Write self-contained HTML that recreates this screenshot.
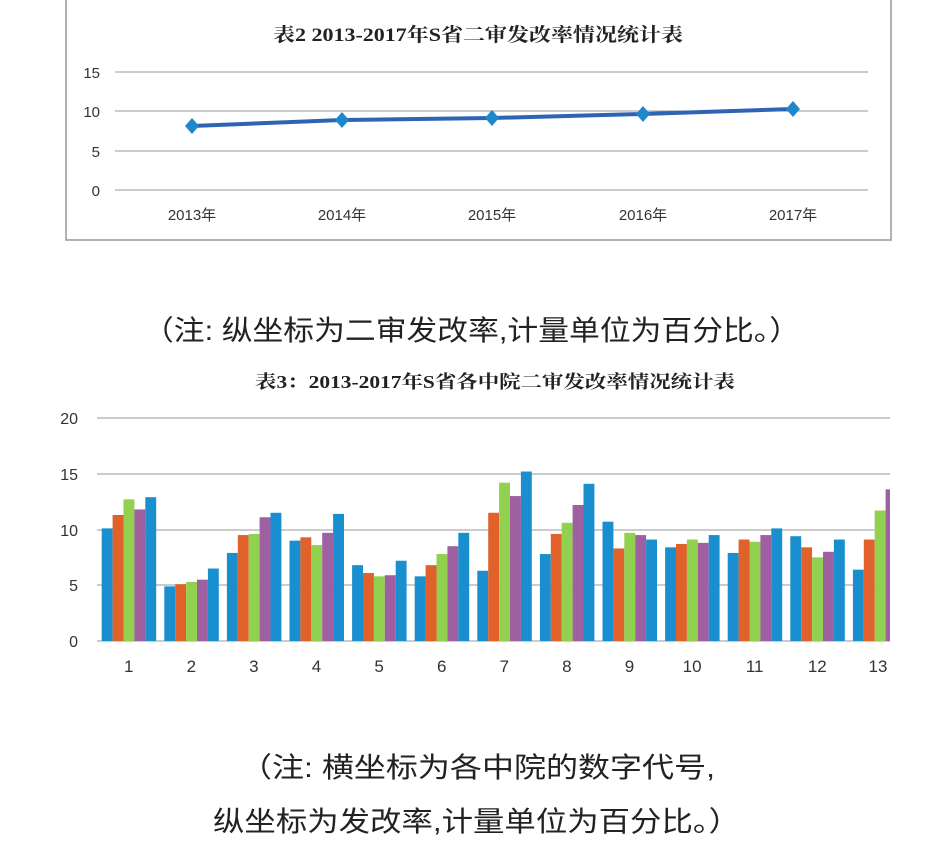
<!DOCTYPE html>
<html><head><meta charset="utf-8"><style>
body{margin:0;background:#fff;width:940px;height:848px;overflow:hidden;font-family:"Liberation Sans","Noto Sans CJK SC",sans-serif}
</style></head><body>
<svg width="940" height="848" xmlns="http://www.w3.org/2000/svg" style="position:absolute;left:0;top:0">
<polyline points="66,0 66,240 891,240 891,0" fill="none" stroke="#999" stroke-width="1.5"/>
<text x="273" y="41" textLength="410" lengthAdjust="spacingAndGlyphs" font-family="Liberation Serif,'Noto Serif CJK SC',serif" font-weight="bold" font-size="19" fill="#222">表2  2013-2017年S省二审发改率情况统计表</text>
<g stroke="#999" stroke-width="1">
<line x1="115" y1="72" x2="868" y2="72"/><line x1="115" y1="111" x2="868" y2="111"/>
<line x1="115" y1="151" x2="868" y2="151"/><line x1="115" y1="190" x2="868" y2="190"/>
</g>
<g font-size="15" fill="#333" text-anchor="end">
<text x="100" y="78">15</text><text x="100" y="117">10</text><text x="100" y="157">5</text><text x="100" y="196">0</text>
</g>
<g font-size="15" fill="#333" text-anchor="middle">
<text x="192" y="220">2013年</text><text x="342" y="220">2014年</text><text x="492" y="220">2015年</text><text x="643" y="220">2016年</text><text x="793" y="220">2017年</text>
</g>
<polyline points="192,126 342,120 492,118 643,114 793,109" fill="none" stroke="#2f64b5" stroke-width="4"/>
<g fill="#1e88cc">
<path d="M192,118 l7,8 l-7,8 l-7,-8z"/><path d="M342,112 l7,8 l-7,8 l-7,-8z"/><path d="M492,110 l7,8 l-7,8 l-7,-8z"/><path d="M643,106 l7,8 l-7,8 l-7,-8z"/><path d="M793,101 l7,8 l-7,8 l-7,-8z"/>
</g>
<text x="143" y="340" textLength="657" lengthAdjust="spacingAndGlyphs" font-size="28" fill="#222">（注: 纵坐标为二审发改率,计量单位为百分比。）</text>
<text x="255" y="388" textLength="480" lengthAdjust="spacingAndGlyphs" font-family="Liberation Serif,'Noto Serif CJK SC',serif" font-weight="bold" font-size="18" fill="#222">表3：2013-2017年S省各中院二审发改率情况统计表</text>
<g stroke="#999" stroke-width="1">
<line x1="97" y1="418" x2="890" y2="418"/><line x1="97" y1="474" x2="890" y2="474"/>
<line x1="97" y1="530" x2="890" y2="530"/><line x1="97" y1="585" x2="890" y2="585"/>
<line x1="97" y1="641" x2="890" y2="641"/>
</g>
<g font-size="16" fill="#333" text-anchor="end">
<text x="78" y="424">20</text><text x="78" y="480">15</text><text x="78" y="536">10</text><text x="78" y="591">5</text><text x="78" y="647">0</text>
</g>
<g id="bars"></g>
<g id="xl" font-size="17" fill="#333" text-anchor="middle"></g>
<text x="240" y="777" textLength="475" lengthAdjust="spacingAndGlyphs" font-size="28" fill="#222">（注: 横坐标为各中院的数字代号,</text>
<text x="213" y="831" textLength="527" lengthAdjust="spacingAndGlyphs" font-size="28" fill="#222">纵坐标为发改率,计量单位为百分比。）</text>
</svg>
<script>
var d=[[10.1,11.3,12.7,11.8,12.9],[4.9,5.1,5.3,5.5,6.5],[7.9,9.5,9.6,11.1,11.5],[9.0,9.3,8.6,9.7,11.4],[6.8,6.1,5.8,5.9,7.2],[5.8,6.8,7.8,8.5,9.7],[6.3,11.5,14.2,13.0,15.2],[7.8,9.6,10.6,12.2,14.1],[10.7,8.3,9.7,9.5,9.1],[8.4,8.7,9.1,8.8,9.5],[7.9,9.1,8.9,9.5,10.1],[9.4,8.4,7.5,8.0,9.1],[6.4,9.1,11.7,13.6]];
var c=["#1a8fd0","#e0622a","#92d050","#9e60a0","#1a8fd0"];
var ns="http://www.w3.org/2000/svg",g=document.getElementById("bars"),xl=document.getElementById("xl");
d.forEach(function(gr,i){var x0=101.7+i*62.6;gr.forEach(function(v,j){var r=document.createElementNS(ns,"rect");var h=v*11.15;var x=x0+j*10.9;var w=10.9;if(x+w>890)w=890-x;r.setAttribute("x",x);r.setAttribute("y",641-h);r.setAttribute("width",w);r.setAttribute("height",h);r.setAttribute("fill",c[j]);g.appendChild(r);});
var t=document.createElementNS(ns,"text");t.setAttribute("x",i==12?878:x0+27);t.setAttribute("y",672);t.textContent=i+1;xl.appendChild(t);});
</script>
</body></html>
